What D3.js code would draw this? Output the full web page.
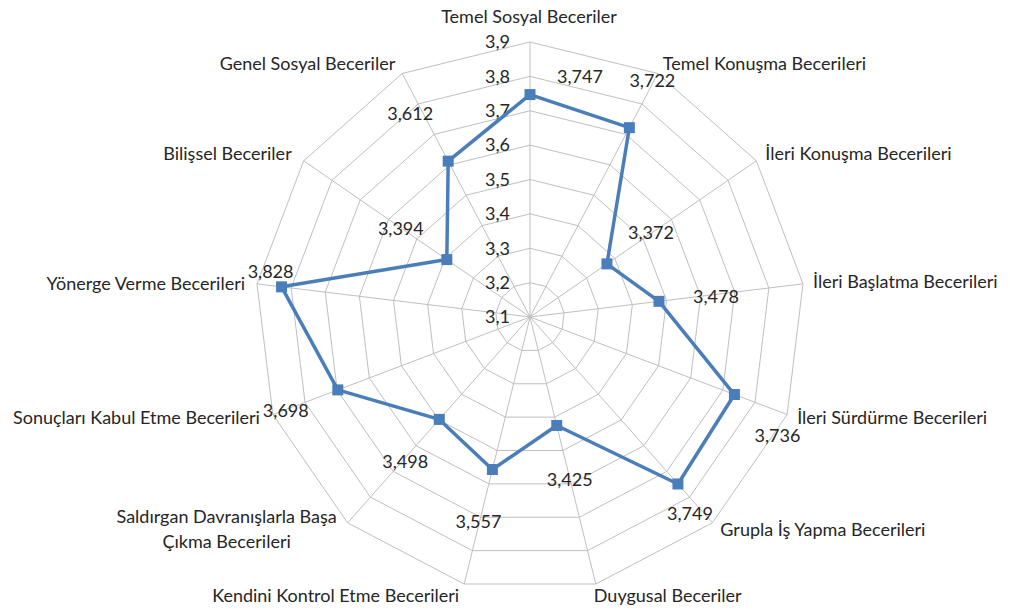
<!DOCTYPE html>
<html>
<head>
<meta charset="utf-8">
<script src="https://cdn.jsdelivr.net/npm/d3@7"></script>
<style>
  body { margin: 0; background: #fff; }
  text { font-family: Lato, "Liberation Sans", sans-serif; font-size: 18px; fill: #262626; }
</style>
</head>
<body>
<div class="chart"></div>
<script>
// categories, clockwise from the top
var categories = [
  "Temel Sosyal Beceriler",
  "Temel Konuşma Becerileri",
  "İleri Konuşma Becerileri",
  "İleri Başlatma Becerileri",
  "İleri Sürdürme Becerileri",
  "Grupla İş Yapma Becerileri",
  "Duygusal Beceriler",
  "Kendini Kontrol Etme Becerileri",
  "Saldırgan Davranışlarla Başa Çıkma Becerileri",
  "Sonuçları Kabul Etme Becerileri",
  "Yönerge Verme Becerileri",
  "Bilişsel Beceriler",
  "Genel Sosyal Beceriler"
];
var values = [3.747, 3.722, 3.372, 3.478, 3.736, 3.749, 3.425, 3.557, 3.498, 3.698, 3.828, 3.394, 3.612];
var ticks = [3.1, 3.2, 3.3, 3.4, 3.5, 3.6, 3.7, 3.8, 3.9];

var width = 1010, height = 610;
var cx = 530, cy = 317, radius = 275;
var blue = "#4a7ebb", grid = "#bfbfbf";

var svg = d3.select(".chart").append("svg")
    .attr("width", width)
    .attr("height", height);

const rScale = d3.scaleLinear()
    .domain([3.1, 3.9])
    .range([0, radius]);

const aScale = d3.scaleLinear()
    .domain([0, categories.length])
    .range([0, 2 * Math.PI]);

function pt(i, v) {
    var a = aScale(i), r = rScale(v);
    return [cx + r * Math.sin(a), cy - r * Math.cos(a)];
}

const g = svg.append("g");

// rings
g.selectAll(".ring")
    .data(ticks.slice(1))
    .enter().append("polygon")
    .attr("class", "ring")
    .attr("points", t => categories.map((c, i) => pt(i, t).join(",")).join(" "))
    .attr("fill", "none")
    .attr("stroke", grid)
    .attr("stroke-width", 1);

// spokes
g.selectAll(".spoke")
    .data(categories)
    .enter().append("line")
    .attr("class", "spoke")
    .attr("x1", cx).attr("y1", cy)
    .attr("x2", (c, i) => pt(i, 3.9)[0])
    .attr("y2", (c, i) => pt(i, 3.9)[1])
    .attr("stroke", grid)
    .attr("stroke-width", 1);

// tick labels along the top spoke
g.selectAll(".tick")
    .data(ticks)
    .enter().append("text")
    .attr("class", "tick")
    .attr("x", cx - 20)
    .attr("y", t => cy - rScale(t))
    .attr("dy", "0.35em")
    .attr("text-anchor", "end")
    .text(t => d3.format(".1f")(t).replace(".", ","));

// category labels: anchor + offset from the spoke end
var catPos = [
  ["middle", -1, -25], ["start", 5, -10], ["start", 9, -7], ["start", 10, -2],
  ["start", 10, 3], ["start", 8, 7], ["start", -2, 12], ["end", -5, 12],
  ["middle", -121, -6], ["end", -13, 3], ["end", -12, 0], ["end", -12, -7], ["end", -7, -10]
];
var catText = g.selectAll(".cat")
    .data(categories)
    .enter().append("text")
    .attr("class", "cat")
    .attr("text-anchor", (c, i) => catPos[i][0])
    .attr("transform", (c, i) => {
        var p = pt(i, 3.9);
        return "translate(" + (p[0] + catPos[i][1]) + "," + (p[1] + catPos[i][2]) + ")";
    });
catText.each(function(c, i) {
    var lines = i === 8 ? ["Saldırgan Davranışlarla Başa", "Çıkma Becerileri"] : [c];
    d3.select(this).selectAll("tspan")
        .data(lines)
        .enter().append("tspan")
        .attr("x", 0)
        .attr("y", (l, k) => k * 25)
        .attr("dy", "0.35em")
        .text(l => l);
});

// series line
const line = d3.line().curve(d3.curveLinearClosed);
g.append("path")
    .attr("d", line(values.map((v, i) => pt(i, v))))
    .attr("fill", "none")
    .attr("stroke", blue)
    .attr("stroke-width", 3.5)
    .attr("stroke-linejoin", "round");

// markers
g.selectAll(".marker")
    .data(values)
    .enter().append("rect")
    .attr("class", "marker")
    .attr("x", (v, i) => pt(i, v)[0] - 5.5)
    .attr("y", (v, i) => pt(i, v)[1] - 5.5)
    .attr("width", 11)
    .attr("height", 11)
    .attr("fill", blue);

// data labels, offset from each point
var labelOff = [
  [50, -18], [23, -47], [44, -31], [57, -5], [43, 41], [12, 30], [13, 54],
  [-14, 52], [-34, 42], [-52, 21], [-11, -15], [-46, -31], [-38, -47]
];
g.selectAll(".val")
    .data(values)
    .enter().append("text")
    .attr("class", "val")
    .attr("x", (v, i) => pt(i, v)[0] + labelOff[i][0])
    .attr("y", (v, i) => pt(i, v)[1] + labelOff[i][1])
    .attr("dy", "0.35em")
    .attr("text-anchor", "middle")
    .text(v => d3.format(".3f")(v).replace(".", ","));
</script>
</body>
</html>
